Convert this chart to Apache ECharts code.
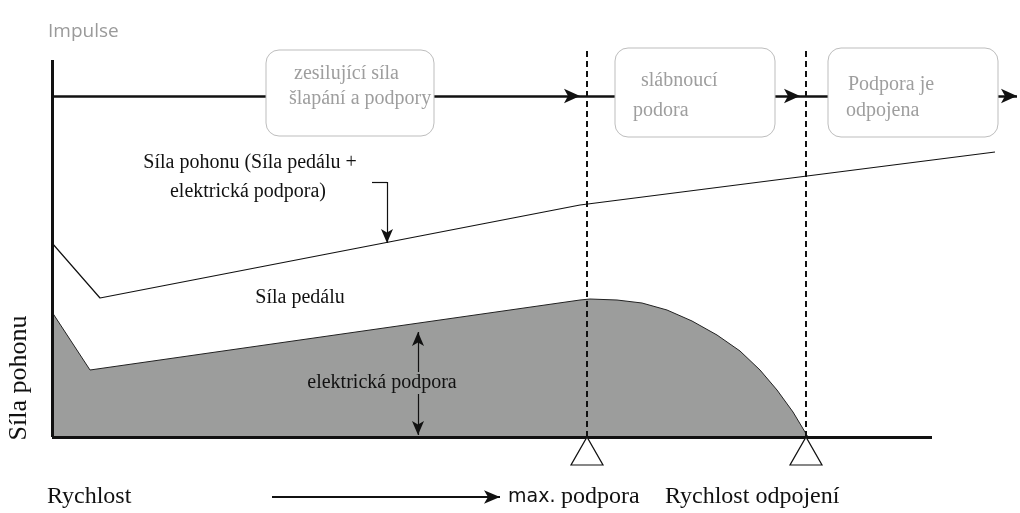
<!DOCTYPE html>
<html>
<head>
<meta charset="utf-8">
<script src="https://cdn.jsdelivr.net/npm/echarts@6/dist/echarts.min.js"></script>
<style>
  html, body { margin: 0; padding: 0; background: #fff; }
  #chart { width: 1020px; height: 513px; }
</style>
</head>
<body>
<div id="chart"></div>
<script>
// rychlost (x) a síla (y) v jednotkách diagramu
var pedalForce = [[0,125],[38,67],[528,137],[538,138],[565,137],[590,134],[615,127],[640,116],[665,102],[688,86],[708,67],[725,47],[741,25],[756,0]];
var driveForce = [[0,194],[48,139],[528,232],[943,285]];
var maxSupport = 535;     // max. podpora
var cutOff = 754;         // rychlost odpojení
var impulseLevel = 341;
var axisEndX = 880;
var axisTopY = 377;

var serif = '"Liberation Serif", "DejaVu Serif", serif';
var sans = '"DejaVu Sans", "Open Sans", sans-serif';

function seg(a, b, endSymbol, style, size) {
  return [
    { coord: a, symbol: 'none', lineStyle: style },
    { coord: b, symbol: endSymbol || 'none', symbolSize: size || [11, 16] }
  ];
}
var solid = { color: '#111', width: 2.5, type: 'solid' };
var thin = { color: '#111', width: 1.2, type: 'solid' };
var dashed = { color: '#111', width: 2, type: [6, 4] };

var chart = echarts.init(document.getElementById('chart'));
chart.setOption({
  animation: false,
  grid: { left: 52, right: 0, top: 48, bottom: 0 },
  xAxis: { type: 'value', min: 0, max: 968, show: false },
  yAxis: { type: 'value', min: -76, max: 389, show: false },
  series: [
    {
      name: 'Síla pedálu',
      type: 'line',
      data: pedalForce,
      symbol: 'none',
      lineStyle: { color: '#222', width: 1 },
      areaStyle: { color: '#9c9d9c', opacity: 1 },
      z: 2
    },
    {
      name: 'Síla pohonu',
      type: 'line',
      data: driveForce,
      symbol: 'none',
      lineStyle: { color: '#111', width: 1.2 },
      z: 3
    },
    {
      name: 'osy',
      type: 'line',
      data: [],
      z: 4,
      markLine: {
        silent: true,
        animation: false,
        label: { show: false },
        symbol: ['none', 'none'],
        data: [
          seg([0, 0], [0, axisTopY], 'none', { color: '#111', width: 3, type: 'solid' }),
          seg([0, 0], [axisEndX, 0], 'none', { color: '#111', width: 3, type: 'solid' }),
          seg([0, impulseLevel], [528, impulseLevel], 'arrow', solid),
          seg([528, impulseLevel], [748, impulseLevel], 'arrow', solid),
          seg([748, impulseLevel], [965, impulseLevel], 'arrow', solid),
          seg([maxSupport, 0], [maxSupport, 389], 'none', dashed),
          seg([cutOff, 0], [cutOff, 389], 'none', dashed),
          seg([320, 255], [335, 255], 'none', thin),
          seg([335, 255], [335, 194], 'arrow', thin, [9, 14]),
          seg([366, 65], [366, 105], 'arrow', thin, [9, 14]),
          seg([366, 43], [366, 2], 'arrow', thin, [9, 14]),
          seg([220, -60], [448, -60], 'arrow', { color: '#111', width: 2, type: 'solid' }, [10, 16])
        ]
      },
      markPoint: {
        silent: true,
        symbol: 'triangle',
        symbolSize: [32, 28],
        label: { show: false },
        itemStyle: { color: '#fff', borderColor: '#111', borderWidth: 1.2 },
        data: [
          { coord: [maxSupport, -14] },
          { coord: [cutOff, -14] }
        ]
      }
    }
  ]
});

function box(x, y, w, h, lines) {
  return [
    { type: 'rect', z: 100, shape: { x: x, y: y, width: w, height: h, r: 13 },
      style: { fill: '#fff', stroke: '#bdbdbd', lineWidth: 1 } }
  ].concat(lines.map(function (l) {
    return { type: 'text', z: 101, x: l[0], y: l[1],
      style: { text: l[2], fill: '#9e9e9e', font: '20px ' + serif, textVerticalAlign: 'middle' } };
  }));
}
function label(x, y, text, opts) {
  opts = opts || {};
  return {
    type: 'text', x: x, y: y, z: 100, rotation: opts.rot || 0,
    style: { text: text, fill: opts.color || '#111', font: (opts.size || 20) + 'px ' + (opts.family || serif),
      textAlign: opts.align || 'left', textVerticalAlign: 'middle' }
  };
}

var graphics = [].concat(
  box(266, 50, 168, 86, [[294, 74, 'zesilující síla'], [289, 99, 'šlapání a podpory']]),
  box(615, 48, 160, 89, [[641, 81, 'slábnoucí'], [633, 111, 'podora']]),
  box(828, 48, 170, 89, [[848, 85, 'Podpora je'], [846, 111, 'odpojena']]),
  [
    label(48, 32, 'Impulse', { color: '#9a9a9a', size: 19, family: '"Open Sans", sans-serif' }),
    label(250, 163, 'Síla pohonu (Síla pedálu +', { align: 'center' }),
    label(248, 192, 'elektrická podpora)', { align: 'center' }),
    label(300, 298, 'Síla pedálu', { align: 'center' }),
    label(382, 383, 'elektrická podpora', { align: 'center' }),
    label(19, 378, 'Síla pohonu', { rot: Math.PI / 2, align: 'center', size: 26 }),
    label(47, 497, 'Rychlost', { size: 24 }),
    label(508, 497, 'max.', { size: 19, family: sans }),
    label(561, 497, 'podpora', { size: 24 }),
    label(665, 497, 'Rychlost odpojení', { size: 24 })
  ]
);

chart.setOption({ graphic: graphics });
</script>
</body>
</html>
